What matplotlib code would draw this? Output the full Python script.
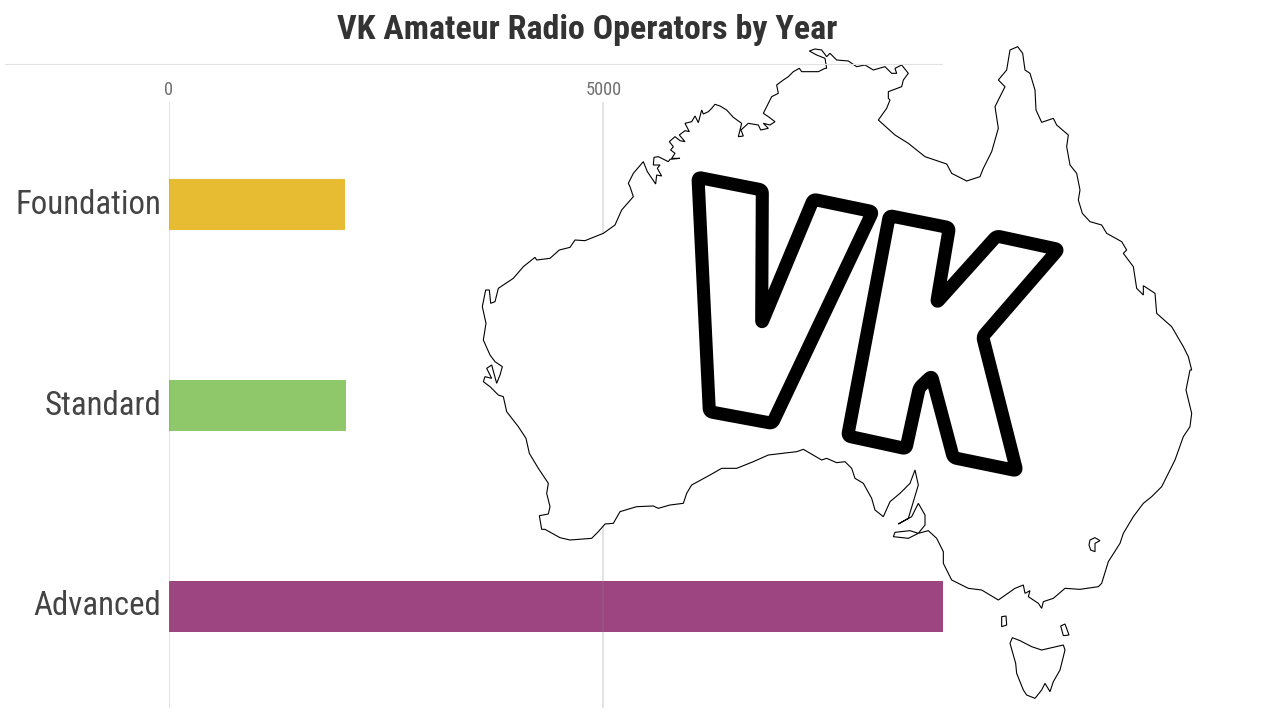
import matplotlib
matplotlib.use('Agg')
import matplotlib.pyplot as plt
from matplotlib.font_manager import findfont, FontProperties
from matplotlib.transforms import ScaledTranslation

# pick the narrowest family that is actually installed
narrow = 'Roboto'
for name in ['Roboto Condensed', 'Liberation Sans Narrow']:
    try:
        findfont(FontProperties(family=name), fallback_to_default=False)
        narrow = name
        break
    except ValueError:
        pass
plt.rcParams['font.family'] = [narrow, 'DejaVu Sans']

title = 'VK Amateur Radio Operators by Year'
licences = ['Foundation', 'Standard', 'Advanced']
operators = [2030, 2040, 8900]
bar_colours = ['#e8bc32', '#8ec86a', '#9c4580']
ticks = [0, 5000]

# coast, crop coordinates at 3x zoom, clockwise from Cape Leeuwin
coast_a = [  # offset 470,370
    (215,478),(208,437),(235,432),(240,410),(230,370),(235,340),(205,295),(178,250),
    (168,205),(145,170),(110,125),(100,80)]
coast_shark = [  # offset 475,355
    (70,120),(45,95),(25,80),(30,65),(50,70),(35,40),(50,30),(65,85),(75,60),(82,35),
    (60,20),(45,0)]
coast_b = [  # offset 470,40
    (40,900),(48,850),(37,800),(47,750),(58,750),(62,790),(75,785),(85,745),
    (130,715),(160,680),(195,652),(200,660),(240,655),(268,630),(300,622),(315,600),
    (345,602),(400,580),(435,555),(455,510),(490,470),(480,440),(475,430),(490,400),
    (520,365)]
coast_kimberley = [  # offset 640,100
    (10,185),(22,215),(47,252),(50,225),(65,228),(52,205),(60,195),(40,195),(42,172),
    (55,170),(65,175),(85,185),(90,178),(120,175),(95,175),(105,160),(92,150),(100,140),
    (88,125),(105,110),(120,122),(135,125),(118,105),(135,92),(148,95),(135,70),(155,65),
    (165,48),(175,68),(185,30),(190,42),(205,35),(215,25),(225,13),(240,18),(260,30),
    (280,52),(305,70),(295,110),(310,108),(303,90),(325,70),(355,75),(362,90),(385,85)]
coast_top = [  # offset 760,45
    (10,235),(30,240),(45,230),(25,215),(10,205),(20,185),(35,155),(55,145),(50,120),
    (70,105),(85,95),(100,80),(118,70),(125,80),(175,80),(195,70),(200,70),(195,40),
    (170,30),(148,18),(165,12),(185,15),(200,35),(210,25),(230,45),(265,48),(290,65),
    (315,60),(340,75),(375,65),(395,85),(410,85),(405,70),(425,60),(445,85),(430,105),
    (425,125),(385,140),(385,160),(390,165),(380,190),(355,225)]
coast_c = [  # offset 850,40
    (85,240),(135,285),(175,310),(225,350),(290,372),
    (305,400),(350,423),(390,410),(400,385),(425,335),(445,265),(435,200),(450,170),
    (465,140),(445,120),(470,90),(480,30),(503,20),(518,40),(525,90),(540,100),
    (555,150),(558,210),(575,247),(610,235),(620,255),(655,285),(650,320),(660,375),
    (680,400),(690,450),(685,480),(697,520),(720,545),(755,555),(770,580),(815,605),
    (830,630),(820,640),(850,680),(860,745),(880,765),(880,737),(915,760),(920,820),
    (965,860),(1000,920),(1015,950),(1025,990)]
coast_d = [  # offset 850,370
    (1020,0),(1008,60),(1025,130),(1020,170),(1000,200),(975,270),(935,350),(905,380),
    (880,400),(850,440),(820,490),(810,520),(775,575),(755,640),(745,650),(690,658),
    (645,655),(610,685),(580,695),(575,715),(565,700),(535,680),(540,662),(525,670),
    (520,645),(495,655),(445,690),(395,660),(355,655),(305,630),(280,580),(280,545),
    (260,505),(235,482),(205,490),(225,465),(225,435),(205,400),(185,440),(145,462),
    (175,445),(205,345),(195,300),(180,340),(150,370),(120,395),(100,440),(75,420),
    (65,385),(40,340),(15,325),(5,295)]
coast_e = [  # offset 470,370
    (1125,275),(1100,278),(1070,265),
    (1055,270),(1000,238),(980,245),(895,255),(850,275),(800,295),(755,295),(720,315),
    (665,345),(650,370),(640,400),(600,405),(565,415),(550,408),(500,410),(450,425),
    (430,460),(405,462),(385,485),(365,505),(300,510),(270,503),(225,478)]

# islands, offset 850,370
kangaroo = [(205,490),(175,505),(130,500),(135,487),(180,482)]
tasmania = [(487,803),(480,820),(497,880),(500,910),(520,960),(530,975),(555,985),
            (575,960),(585,940),(600,965),(610,935),(630,900),(635,880),(645,840),
            (640,825),(575,840),(545,830),(510,812)]
king = [(455,740),(468,738),(470,765),(455,770)]
flinders = [(632,768),(645,762),(657,795),(640,797)]
small = [(720,510),(735,503),(750,512),(735,520),(735,545),(722,540),(717,525)]

# outline of the VK lettering, offset 680,160
letter_v = [(54,52),(247,90),(245,490),(400,118),(578,155),(277,790),(88,755)]
letter_k = [(628,167),(808,203),(770,428),(950,228),(1135,268),(908,530),(1010,932),
            (820,893),(755,648),(718,683),(678,866),(503,828)]


def to_px(points, ox, oy):
    return [ox + p[0] / 3 for p in points], [oy + p[1] / 3 for p in points]


def round_corners(xs, ys, r=3.5, steps=6):
    # cut each corner of a closed outline with a small quadratic curve
    out_x, out_y = [], []
    n = len(xs)
    for i in range(n):
        x0, y0 = xs[i - 1], ys[i - 1]
        x1, y1 = xs[i], ys[i]
        x2, y2 = xs[(i + 1) % n], ys[(i + 1) % n]
        d0 = ((x1 - x0)**2 + (y1 - y0)**2)**0.5
        d2 = ((x2 - x1)**2 + (y2 - y1)**2)**0.5
        ax_, ay_ = x1 - (x1 - x0) / d0 * r, y1 - (y1 - y0) / d0 * r
        bx_, by_ = x1 + (x2 - x1) / d2 * r, y1 + (y2 - y1) / d2 * r
        for k in range(steps + 1):
            t = k / steps
            out_x.append((1-t)**2 * ax_ + 2*t*(1-t) * x1 + t**2 * bx_)
            out_y.append((1-t)**2 * ay_ + 2*t*(1-t) * y1 + t**2 * by_)
    return out_x, out_y


fig = plt.figure(figsize=(12.8, 7.2), dpi=100)

ax = fig.add_axes([168.5 / 1280, 1 - 708 / 720, 774 / 1280, 606 / 720])
ypos = range(len(licences))
ax.barh(ypos, operators, height=0.249, color=bar_colours)
ax.set_xlim(0, 8900)
ax.set_ylim(2.505, -0.51)
ax.xaxis.tick_top()
ax.set_xticks(ticks)
ax.set_xticklabels([str(t) for t in ticks], fontsize=13.2, color='#707070')
ax.set_yticks(list(ypos))
ax.set_yticklabels(licences, fontsize=23.7, color='#444444')
ax.tick_params(axis='x', length=0, pad=2)
ax.tick_params(axis='y', length=0, pad=5)
# category labels sit a little above the bar centres
shift = ScaledTranslation(0, 3.5 / 100, fig.dpi_scale_trans)
for lab in ax.get_yticklabels():
    lab.set_transform(lab.get_transform() + shift)
ax.grid(axis='x', color='#888888', alpha=0.25, linewidth=1.3)
ax.set_axisbelow(False)
for s in ax.spines.values():
    s.set_visible(False)

# everything else sits on an overlay in pixel coordinates
over = fig.add_axes([0, 0, 1, 1], zorder=5)
over.set_xlim(0, 1280)
over.set_ylim(720, 0)
over.axis('off')
over.patch.set_alpha(0)

over.plot([5, 942], [63.5, 63.5], color='#e2e2e2', linewidth=0.8)
over.text(587.5, 29.5, title, ha='center', va='center', fontsize=24.5,
          fontweight='bold', color='#333333')

xs, ys = [], []
for part, ox, oy in [(coast_a, 470, 370), (coast_shark, 475, 355), (coast_b, 470, 40),
                     (coast_kimberley, 640, 100), (coast_top, 760, 45), (coast_c, 850, 40),
                     (coast_d, 850, 370), (coast_e, 470, 370)]:
    px, py = to_px(part, ox, oy)
    xs += px
    ys += py
over.fill(xs, ys, facecolor='white', edgecolor='black', linewidth=0.8)

for island in [kangaroo, tasmania, king, flinders, small]:
    px, py = to_px(island, 850, 370)
    over.fill(px, py, facecolor='white', edgecolor='black', linewidth=0.8)

for letter in [letter_v, letter_k]:
    px, py = to_px(letter, 680, 160)
    px, py = round_corners(px, py)
    over.fill(px, py, facecolor='white', edgecolor='black', linewidth=9.4,
              joinstyle='round')

fig.savefig('out.png', dpi=100)
